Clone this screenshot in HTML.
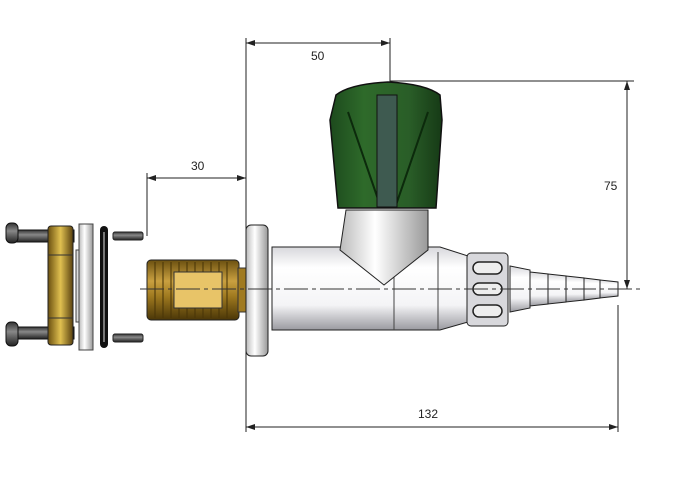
<!DOCTYPE html>
<html><head><meta charset="utf-8"><style>
html,body{margin:0;padding:0;background:#fff}
svg{display:block}
text{font-family:"Liberation Sans",sans-serif;font-size:12px;fill:#222}
</style></head><body>
<svg width="689" height="483" viewBox="0 0 689 483" xmlns="http://www.w3.org/2000/svg">
<defs>
<linearGradient id="metal" x1="0" y1="0" x2="0" y2="1">
<stop offset="0" stop-color="#d8d8dc"/><stop offset="0.25" stop-color="#ffffff"/><stop offset="0.7" stop-color="#f4f4f6"/><stop offset="1" stop-color="#9a9aa0"/></linearGradient>
<linearGradient id="metalh" x1="0" y1="0" x2="1" y2="0">
<stop offset="0" stop-color="#bbb"/><stop offset="0.4" stop-color="#fff"/><stop offset="1" stop-color="#999"/></linearGradient>
<linearGradient id="brass" x1="0" y1="0" x2="0" y2="1">
<stop offset="0" stop-color="#6b5010"/><stop offset="0.35" stop-color="#c9a040"/><stop offset="0.6" stop-color="#a07a20"/><stop offset="1" stop-color="#4a3608"/></linearGradient>
<linearGradient id="brassv" x1="0" y1="0" x2="1" y2="0">
<stop offset="0" stop-color="#6b5010"/><stop offset="0.5" stop-color="#e0c050"/><stop offset="1" stop-color="#5a4210"/></linearGradient>
<linearGradient id="green" x1="0" y1="0" x2="1" y2="0">
<stop offset="0" stop-color="#1d4a1d"/><stop offset="0.3" stop-color="#2e6a2a"/><stop offset="0.7" stop-color="#2a5e28"/><stop offset="1" stop-color="#163a16"/></linearGradient>
<linearGradient id="screw" x1="0" y1="0" x2="0" y2="1">
<stop offset="0" stop-color="#333"/><stop offset="0.4" stop-color="#888"/><stop offset="1" stop-color="#222"/></linearGradient>
</defs>

<g stroke="#222" stroke-width="1" fill="none">
<line x1="246" y1="38" x2="246" y2="432"/>
<line x1="390" y1="38" x2="390" y2="82"/>
<line x1="246" y1="43" x2="390" y2="43"/>
<line x1="390" y1="81" x2="634" y2="81"/>
<line x1="627" y1="81" x2="627" y2="289"/>
<line x1="147" y1="173" x2="147" y2="236"/>
<line x1="147" y1="178" x2="246" y2="178"/>
<line x1="618" y1="305" x2="618" y2="432"/>
<line x1="246" y1="427" x2="618" y2="427"/>
</g>
<g fill="#222">
<path d="M246 43 l9 -3 v6z"/><path d="M390 43 l-9 -3 v6z"/>
<path d="M627 81 l-3 9 h6z"/><path d="M627 289 l-3 -9 h6z"/>
<path d="M147 178 l9 -3 v6z"/><path d="M246 178 l-9 -3 v6z"/>
<path d="M246 427 l9 -3 v6z"/><path d="M618 427 l-9 -3 v6z"/>
</g>
<text x="311" y="60">50</text>
<text x="191" y="170">30</text>
<text x="604" y="190">75</text>
<text x="418" y="418">132</text>

<rect x="16" y="230" width="58" height="12" fill="url(#screw)" stroke="#111"/>
<rect x="16" y="327" width="58" height="12" fill="url(#screw)" stroke="#111"/>
<rect x="6" y="223" width="12" height="20" rx="5" fill="url(#screw)" stroke="#111"/>
<rect x="6" y="322" width="12" height="24" rx="5" fill="url(#screw)" stroke="#111"/>
<rect x="48" y="226" width="25" height="119" rx="3" fill="url(#brassv)" stroke="#222"/>
<line x1="48" y1="255" x2="73" y2="255" stroke="#333"/>
<line x1="48" y1="318" x2="73" y2="318" stroke="#333"/>
<rect x="76" y="250" width="5" height="72" fill="#ddd" stroke="#444"/>
<rect x="79" y="224" width="14" height="126" fill="url(#metalh)" stroke="#444"/>
<rect x="100" y="226" width="8" height="122" rx="4" fill="#111"/>
<rect x="103" y="232" width="2" height="110" fill="#777"/>
<rect x="113" y="232" width="30" height="8" rx="2" fill="url(#screw)" stroke="#222"/>
<rect x="113" y="334" width="30" height="8" rx="2" fill="url(#screw)" stroke="#222"/>
<rect x="147" y="260" width="92" height="60" rx="4" fill="url(#brass)" stroke="#222"/>
<g stroke="#4a3608" stroke-width="1.5" opacity="0.7">
<line x1="155" y1="262" x2="155" y2="318"/><line x1="163" y1="262" x2="163" y2="318"/><line x1="171" y1="262" x2="171" y2="318"/><line x1="179" y1="262" x2="179" y2="318"/><line x1="187" y1="262" x2="187" y2="318"/><line x1="195" y1="262" x2="195" y2="318"/><line x1="203" y1="262" x2="203" y2="318"/><line x1="211" y1="262" x2="211" y2="318"/><line x1="219" y1="262" x2="219" y2="318"/><line x1="227" y1="262" x2="227" y2="318"/>
</g>
<rect x="174" y="272" width="48" height="36" fill="#e8c468" stroke="#333"/>
<rect x="238" y="268" width="8" height="44" fill="#a07a20" stroke="#333"/>

<path d="M272 247 H440 L468 256 V322 L440 330 H272z" fill="url(#metal)" stroke="#222"/>
<line x1="394" y1="270" x2="394" y2="330" stroke="#444"/>
<line x1="438" y1="252" x2="438" y2="330" stroke="#444"/>
<path d="M346 210 H428 V250 L384 285 L340 250 Z" fill="url(#metalh)" stroke="#222"/>
<rect x="246" y="225" width="22" height="131" rx="5" fill="url(#metalh)" stroke="#222"/>
<rect x="467" y="253" width="41" height="73" rx="4" fill="#d8d8dc" stroke="#222"/>
<g fill="#eee" stroke="#222" stroke-width="1.5">
<rect x="473" y="262" width="29" height="12" rx="6"/>
<rect x="473" y="283" width="29" height="12" rx="6"/>
<rect x="473" y="305" width="29" height="12" rx="6"/>
</g>
<path d="M510 266 L530 270 L530 308 L510 312Z" fill="url(#metal)" stroke="#222"/>
<g fill="url(#metal)" stroke="#222">
<path d="M530 272 L548 274 V304 L530 306Z"/>
<path d="M548 274 L566 276 V302 L548 304Z"/>
<path d="M566 276 L584 278 V300 L566 302Z"/>
<path d="M584 278 L600 280 V298 L584 300Z"/>
<path d="M600 280 L618 282 V296 L600 298Z"/>
</g>

<path d="M336 95 Q350 84 388 82 Q426 84 440 95 L442 120 L436 208 H338 L330 120Z" fill="url(#green)" stroke="#111" stroke-width="1.5"/>
<path d="M348 112 L380 205 M428 112 L396 205" stroke="#0c2a0c" stroke-width="2" fill="none"/>
<rect x="377" y="95" width="20" height="112" fill="#3e5a50" stroke="#111"/>

<line x1="140" y1="289" x2="640" y2="289" stroke="#333" stroke-dasharray="24 4 4 4"/>
</svg>
</body></html>
